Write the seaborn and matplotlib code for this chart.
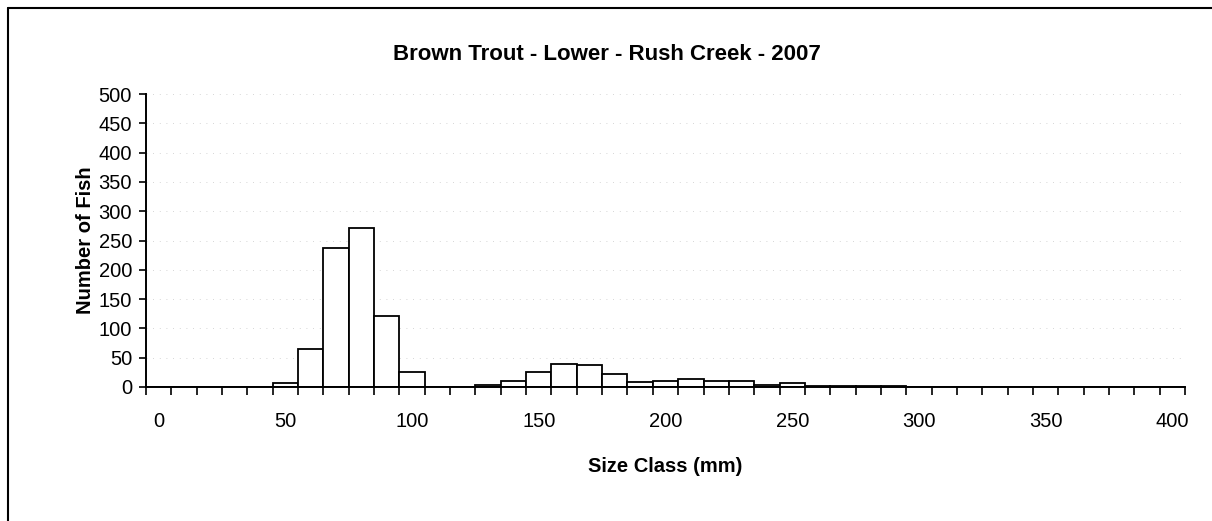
import numpy as np
import pandas as pd
import seaborn as sns
import matplotlib.pyplot as plt
from matplotlib.lines import Line2D

# size classes (mm) and fish counts
size_class = list(range(0, 410, 10))
counts = [0, 0, 0, 0, 0, 7, 65, 238, 271, 121,
          25, 0, 0, 3, 10, 25, 40, 37, 22, 9,
          10, 14, 11, 10, 3, 7, 2, 2, 2, 2,
          0, 0, 0, 0, 0, 0, 0, 0, 0, 0, 0]
y_ticks = list(range(0, 501, 50))

df = pd.DataFrame({'size': [str(s) for s in size_class], 'n': counts})

sns.set_style('white')
plt.rcParams['font.family'] = ['Liberation Sans', 'DejaVu Sans']
plt.rcParams['text.color'] = 'black'
plt.rcParams['axes.labelcolor'] = 'black'
plt.rcParams['xtick.color'] = 'black'
plt.rcParams['ytick.color'] = 'black'

fig = plt.figure(figsize=(12.12, 5.21), dpi=100)
ax = fig.add_axes([146 / 1212, 1 - 387 / 521, (1185 - 146) / 1212, (387 - 94) / 521])

sns.barplot(data=df, x='size', y='n', color='white', edgecolor='black',
            linewidth=1.3, width=1.0, saturation=1, ax=ax)

ax.set_xlim(-0.5, len(size_class) - 0.5)
ax.set_ylim(0, 500)

# gridlines (faint, dotted like the scan)
for v in y_ticks[1:]:
    ax.axhline(v, color='#c8c8c8', lw=0.6, ls=(0, (1, 7)), zorder=0)

# labels every 50 mm at category centres, tick marks between categories
lab_pos = [i for i, s in enumerate(size_class) if s % 50 == 0]
ax.set_xticks(lab_pos)
ax.set_xticklabels([str(size_class[i]) for i in lab_pos], fontsize=14.5)
ax.set_xticks(np.arange(-0.5, len(size_class), 1.0), minor=True)
ax.tick_params(axis='x', which='both', bottom=True)
ax.tick_params(axis='x', which='major', length=0, pad=18)
ax.tick_params(axis='x', which='minor', length=6, width=1.2, color='black', direction='out')

ax.set_yticks(y_ticks)
ax.set_yticklabels([str(v) for v in y_ticks], fontsize=14.5)
ax.tick_params(axis='y', left=True, length=5, width=1.2, color='black', direction='out', pad=5)

for s in ['top', 'right']:
    ax.spines[s].set_visible(False)
for s in ['left', 'bottom']:
    ax.spines[s].set_color('black')
    ax.spines[s].set_linewidth(1.4)

ax.set_xlabel('Size Class (mm)', fontsize=14.5, fontweight='bold')
ax.set_ylabel('Number of Fish', fontsize=14.5, fontweight='bold')
ax.xaxis.set_label_coords(0.5, -(457 - 387) / 293)
ax.yaxis.set_label_coords((95 - 146) / 1039, 0.5)

fig.text(0.501, 1 - 54 / 521, 'Brown Trout - Lower - Rush Creek - 2007',
         ha='center', va='center', fontsize=16, fontweight='bold')

# outer chart border (top and left visible in the scan)
fig.add_artist(Line2D([8 / 1212, 8 / 1212], [0, 1 - 8 / 521], color='black', lw=1.5))
fig.add_artist(Line2D([8 / 1212, 1], [1 - 8 / 521, 1 - 8 / 521], color='black', lw=1.5))

fig.savefig('out.png', dpi=100)
